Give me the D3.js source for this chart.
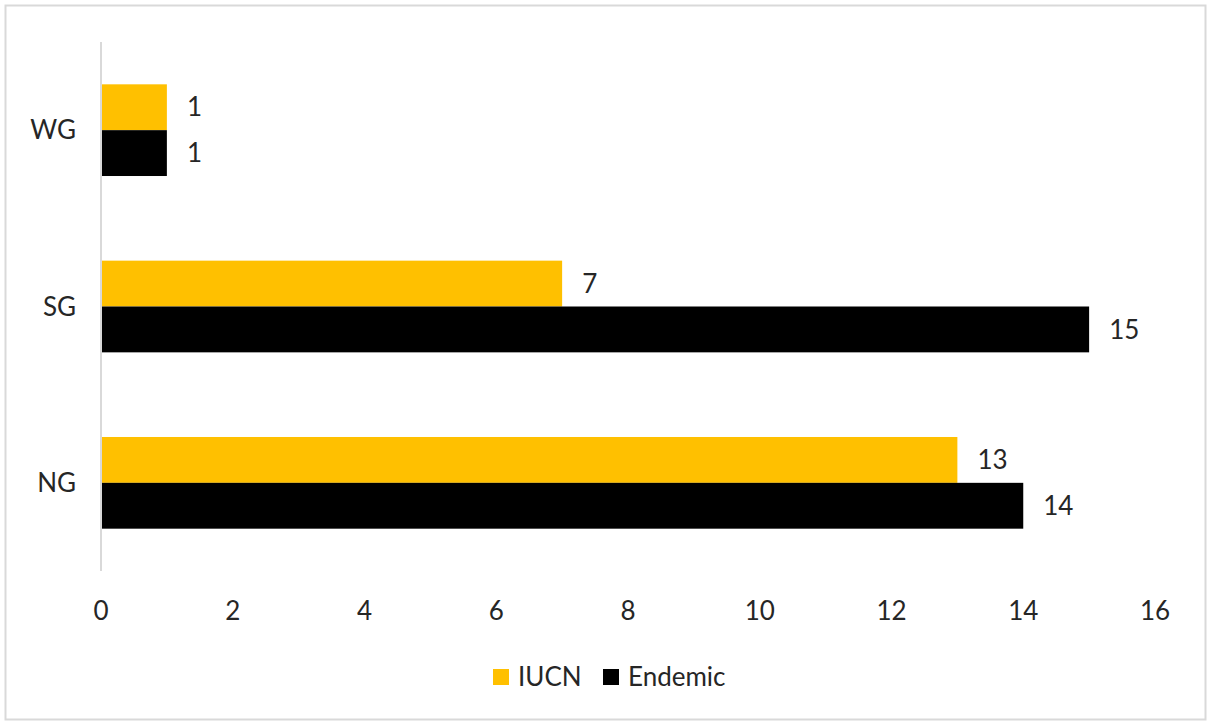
<!DOCTYPE html>
<html>
<head>
<meta charset="utf-8">
<script src="https://cdn.jsdelivr.net/npm/d3@7"></script>
<style>
  body { margin: 0; background: #fff; }
  text { font-family: Lato, "Open Sans", sans-serif; fill: #262626; }
</style>
</head>
<body>
<svg id="chart" width="1207" height="724"></svg>
<script>
// data
const regions = ["WG", "SG", "NG"];
const seriesNames = ["IUCN", "Endemic"];
const iucn = [1, 7, 13];
const endemic = [1, 15, 14];
const xTicks = [0, 2, 4, 6, 8, 10, 12, 14, 16];
const colors = ["#FFC000", "#000000"];

let fontSize = 26;
let svg = d3.select("#chart");

// outer frame
svg.append("rect")
  .attr("x", 5.5).attr("y", 5.5)
  .attr("width", 1200).attr("height", 714)
  .attr("fill", "#fff")
  .attr("stroke", "#d9d9d9")
  .attr("stroke-width", 2);

let x = d3.scaleLinear().domain([0, 16]).range([101, 1155]);
let y = d3.scaleBand().domain(regions).range([42, 571]).paddingInner(0.48).paddingOuter(0.24);
let ySub = d3.scaleBand().domain(seriesNames).range([0, y.bandwidth()]);

// bars
let groups = svg.append("g").selectAll("g")
  .data(regions)
  .enter()
  .append("g")
  .attr("transform", d => "translate(0," + y(d) + ")");

groups.selectAll("rect")
  .data((d, i) => [iucn[i], endemic[i]].map((v, j) => ({v: v, s: seriesNames[j], j: j})))
  .enter()
  .append("rect")
  .attr("x", x(0))
  .attr("y", d => ySub(d.s))
  .attr("width", d => x(d.v) - x(0))
  .attr("height", ySub.bandwidth())
  .attr("fill", d => colors[d.j]);

groups.selectAll("text")
  .data((d, i) => [iucn[i], endemic[i]].map((v, j) => ({v: v, s: seriesNames[j]})))
  .enter()
  .append("text")
  .attr("x", d => x(d.v) + 20)
  .attr("y", d => ySub(d.s) + ySub.bandwidth() / 2)
  .attr("dy", "0.35em")
  .attr("font-size", fontSize)
  .text(d => d.v);

// vertical axis line
svg.append("line")
  .attr("x1", x(0)).attr("x2", x(0))
  .attr("y1", 42).attr("y2", 571)
  .attr("stroke", "#d9d9d9")
  .attr("stroke-width", 2);

// category labels
svg.append("g").selectAll("text")
  .data(regions)
  .enter()
  .append("text")
  .attr("x", 76)
  .attr("y", d => y(d) + y.bandwidth() / 2)
  .attr("dy", "0.35em")
  .attr("text-anchor", "end")
  .attr("font-size", fontSize)
  .text(d => d);

// x tick labels
svg.append("g").selectAll("text")
  .data(xTicks)
  .enter()
  .append("text")
  .attr("x", d => x(d))
  .attr("y", 611)
  .attr("dy", "0.35em")
  .attr("text-anchor", "middle")
  .attr("font-size", fontSize)
  .text(d => d);

// legend
let legendX = [493, 603];
let legend = svg.append("g").selectAll("g")
  .data(seriesNames)
  .enter()
  .append("g")
  .attr("transform", (d, i) => "translate(" + legendX[i] + ",677)");

legend.append("rect")
  .attr("x", 0).attr("y", -8)
  .attr("width", 16).attr("height", 16)
  .attr("fill", (d, i) => colors[i]);

legend.append("text")
  .attr("x", 25)
  .attr("dy", "0.35em")
  .attr("font-size", fontSize)
  .text(d => d);
</script>
</body>
</html>
